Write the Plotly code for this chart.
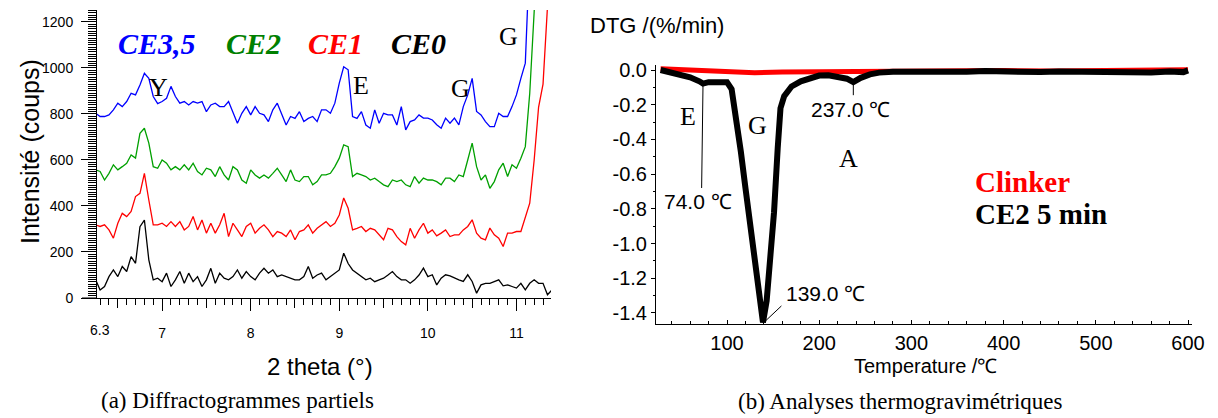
import plotly.graph_objects as go

W, H = 1218, 418
SANS = "Liberation Sans, Arial, sans-serif"
SERIF = "Liberation Serif, Times New Roman, serif"

# ---------------- (a) XRD data ----------------
theta = [round(6.25 + 0.05 * i, 2) for i in range(104)]

ce35 = [803, 789, 789, 796, 818, 847, 832, 854, 890, 883,
        926, 977, 955, 876, 845, 854, 868, 920, 876, 847,
        854, 839, 854, 847, 854, 810, 839, 847, 832, 832,
        854, 810, 760, 803, 832, 796, 832, 803, 796, 767,
        818, 847, 803, 752, 789, 781, 810, 767, 781, 789,
        767, 818, 818, 803, 847, 934, 1005, 992, 789, 781,
        810, 752, 738, 818, 760, 803, 796, 796, 752, 832,
        731, 767, 774, 796, 782, 782, 774, 753, 738, 782,
        760, 782, 753, 832, 883, 955, 811, 796, 767, 745,
        745, 803, 789, 789, 832, 883, 955, 1021, 1500]

ce2 = [557, 550, 513, 542, 579, 557, 571, 586, 622, 608,
       716, 738, 673, 571, 564, 600, 586, 557, 571, 557,
       579, 557, 586, 550, 535, 564, 557, 528, 571, 535,
       513, 571, 557, 513, 499, 557, 535, 521, 535, 521,
       542, 564, 535, 506, 557, 513, 506, 528, 528, 492,
       506, 535, 535, 542, 571, 608, 666, 658, 528, 542,
       535, 528, 513, 521, 506, 492, 484, 513, 506, 513,
       492, 484, 528, 499, 521, 513, 513, 506, 492, 521,
       521, 506, 535, 528, 600, 673, 571, 513, 535, 477,
       506, 557, 586, 528, 579, 564, 608, 658, 890, 1224,
       1600]

ce1 = [318, 311, 318, 296, 260, 325, 368, 354, 376, 441,
       455, 542, 426, 318, 318, 325, 311, 332, 311, 332,
       296, 311, 354, 296, 339, 282, 325, 282, 318, 368,
       267, 325, 296, 267, 311, 325, 282, 303, 318, 296,
       267, 289, 282, 267, 296, 253, 289, 296, 318, 282,
       303, 318, 332, 311, 325, 361, 435, 390, 296, 303,
       311, 289, 303, 296, 274, 253, 303, 296, 267, 245,
       231, 303, 260, 296, 325, 282, 296, 270, 282, 296,
       267, 274, 274, 296, 311, 340, 282, 260, 253, 304,
       275, 260, 224, 282, 282, 289, 289, 354, 412, 600,
       830, 930, 1300, 1600]

ce0 = [79, 35, 50, 93, 122, 93, 137, 115, 180, 151,
       310, 339, 166, 79, 86, 71, 108, 50, 79, 115,
       64, 108, 71, 93, 50, 79, 129, 64, 108, 86,
       79, 93, 122, 86, 115, 93, 79, 108, 129, 108,
       122, 93, 100, 93, 86, 79, 79, 93, 137, 86,
       100, 108, 79, 93, 108, 122, 195, 150, 122, 108,
       93, 79, 86, 71, 79, 86, 100, 115, 93, 79,
       79, 64, 79, 100, 130, 93, 101, 57, 86, 101,
       96, 86, 79, 72, 101, 72, 21, 57, 64, 64,
       72, 79, 53, 57, 50, 43, 64, 35, 64, 79,
       64, 64, 14, 35]

xrd_series = [("CE0", ce0, "#000000"), ("CE1", ce1, "#FF0000"),
              ("CE2", ce2, "#00A000"), ("CE3,5", ce35, "#0000FF")]

x_ticks_a = [7, 8, 9, 10, 11]
x_half_ticks_a = [6.5, 7.5, 8.5, 9.5, 10.5]
y_ticks_a = [0, 200, 400, 600, 800, 1000, 1200]

# ---------------- (b) DTG data ----------------
temp_ce2 = [28, 40, 50, 60, 70, 74, 80, 90, 100,
            105, 110, 115, 120, 125, 130, 135, 139, 143, 147,
            151, 155, 158, 162, 166, 170, 180, 190, 200, 210,
            220, 230, 237, 245, 255, 265, 280, 300, 320, 340,
            360, 380, 400, 420, 440, 460, 480, 500, 520, 540,
            560, 580, 595, 600]
dtg_ce2 = [0.0, -0.015, -0.03, -0.042, -0.065, -0.078, -0.07, -0.068, -0.07,
           -0.11, -0.28, -0.47, -0.68, -0.89, -1.1, -1.3, -1.455, -1.33, -1.10,
           -0.82, -0.45, -0.22, -0.15, -0.115, -0.095, -0.065, -0.045, -0.032, -0.03,
           -0.038, -0.05, -0.07, -0.045, -0.025, -0.015, -0.01, -0.012, -0.008, -0.012,
           -0.01, -0.006, -0.01, -0.008, -0.012, -0.008, -0.01, -0.006, -0.012, -0.01,
           -0.014, -0.008, -0.012, -0.002]

temp_clinker = [28, 60, 100, 130, 160, 200, 250, 300, 350, 400, 450, 500, 550, 600]
dtg_clinker = [0.008, 0.0, -0.012, -0.015, -0.012, -0.01, -0.006, -0.004,
               -0.006, -0.003, -0.005, -0.004, -0.003, 0.002]

x_ticks_b = [100, 200, 300, 400, 500, 600]
y_ticks_b = [0.0, -0.2, -0.4, -0.6, -0.8, -1.0, -1.2, -1.4]
y_ticktext_b = ["0.0", "-0.2", "-0.4", "-0.6", "-0.8", "-1.0", "-1.2", "-1.4"]


def px(x):
    return x / W


def py(y):
    return 1 - y / H


fig = go.Figure()

for name, vals, col in xrd_series:
    fig.add_trace(go.Scatter(x=theta[:len(vals)], y=vals, mode="lines", name=name,
                             line=dict(color=col, width=1.3), xaxis="x", yaxis="y",
                             cliponaxis=True, hoverinfo="skip"))

fig.add_trace(go.Scatter(x=[], y=[], xaxis="x3", yaxis="y", showlegend=False))

fig.add_trace(go.Scatter(x=temp_clinker, y=dtg_clinker, mode="lines", name="Clinker",
                         line=dict(color="#FF0000", width=5), xaxis="x2", yaxis="y2",
                         hoverinfo="skip"))
fig.add_trace(go.Scatter(x=temp_ce2, y=dtg_ce2, mode="lines", name="CE2 5 min",
                         line=dict(color="#000000", width=6), xaxis="x2", yaxis="y2",
                         hoverinfo="skip"))

axcommon = dict(showgrid=False, zeroline=False, showline=True, linecolor="black",
                linewidth=1, tickcolor="black", tickwidth=1, automargin=False)

fig.update_layout(
    template="none",
    width=W, height=H, margin=dict(l=0, r=0, t=0, b=0, pad=0, autoexpand=False),
    paper_bgcolor="white", plot_bgcolor="white", showlegend=False,
    font=dict(family=SANS, color="black"),
    xaxis=dict(domain=[px(97), px(551)], range=[6.265, 11.39], anchor="y",
               tickvals=x_ticks_a, ticks="outside", ticklen=12,
               tickfont=dict(family=SANS, size=14, color="black"),
               ticklabelstandoff=10,
               minor=dict(dtick=0.1, ticks="outside", ticklen=6, tickcolor="black",
                          showgrid=False),
               **axcommon),
    xaxis3=dict(overlaying="x", anchor="y", range=[6.265, 11.39],
                tickvals=x_half_ticks_a, ticks="outside", ticklen=9,
                tickcolor="black", showticklabels=False, showline=False,
                showgrid=False, zeroline=False, automargin=False),
    yaxis=dict(domain=[py(298), py(10)], range=[0, 1252], anchor="x",
               tickvals=y_ticks_a, ticks="outside", ticklen=15,
               tickfont=dict(family=SANS, size=14, color="black"),
               ticklabelstandoff=5,
               minor=dict(dtick=10, ticks="outside", ticklen=8, tickcolor="black",
                          showgrid=False),
               **axcommon),
    xaxis2=dict(domain=[px(656), px(1192)], range=[23, 604.3], anchor="y2",
                tickvals=x_ticks_b, ticks="inside", ticklen=4,
                tickfont=dict(family=SANS, size=20, color="black"),
                ticklabelstandoff=1,
                minor=dict(dtick=20, ticks="inside", ticklen=3, tickcolor="black",
                           showgrid=False),
                **axcommon),
    yaxis2=dict(domain=[py(324), py(65)], range=[-1.464, 0.029], anchor="x2",
                tickvals=y_ticks_b, ticktext=y_ticktext_b, ticks="outside", ticklen=4,
                tickfont=dict(family=SANS, size=20, color="black"),
                minor=dict(dtick=0.1, ticks="outside", ticklen=2, tickcolor="black",
                           showgrid=False),
                **axcommon),
)

ann = []


def txt(x, y, text, size, family, color="black", xanchor="center", angle=0):
    ann.append(dict(x=px(x), y=py(y), xref="paper", yref="paper", text=text,
                    showarrow=False, xanchor=xanchor, yanchor="middle", textangle=angle,
                    font=dict(family=family, size=size, color=color)))


# panel (a)
txt(100, 330, "6.3", 14, SANS)
txt(30, 152, "Intensité (coups)", 25, SANS, angle=-90)
txt(320, 366, "2 theta (°)", 24, SANS)
txt(237, 400, "(a) Diffractogrammes partiels", 23, SERIF)
txt(157, 43, "<b><i>CE3,5</i></b>", 30, SERIF, "#0000FF")
txt(253, 43, "<b><i>CE2</i></b>", 30, SERIF, "#008000")
txt(335, 43, "<b><i>CE1</i></b>", 30, SERIF, "#FF0000")
txt(418, 43, "<b><i>CE0</i></b>", 30, SERIF, "#000000")
txt(158, 87, "Y", 26, SERIF)
txt(361, 86, "E", 26, SERIF)
txt(460, 88, "G", 26, SERIF)
txt(508, 37, "G", 26, SERIF)

# panel (b)
txt(588, 25, "DTG /(%/min)", 22, SANS, xanchor="left")
txt(925, 366, "Temperature /℃", 20, SANS)
txt(900, 401, "(b) Analyses thermogravimétriques", 23, SERIF)
txt(973, 182, "<b>Clinker</b>", 29, SERIF, "#FF0000", xanchor="left")
txt(973, 214, "<b>CE2 5 min</b>", 29, SERIF, "#000000", xanchor="left")
txt(688, 117, "E", 26, SERIF)
txt(757, 125, "G", 26, SERIF)
txt(848, 158, "A", 26, SERIF)
txt(850, 110, "237.0 ℃", 21, SANS)
txt(698, 201, "74.0 ℃", 21, SANS)
txt(825, 293, "139.0 ℃", 21, SANS)

fig.update_layout(annotations=ann)

shapes = [
    # x-axis line extension left of y axis (panel a)
    dict(type="line", xref="paper", yref="paper", x0=px(82), x1=px(97),
         y0=py(298), y1=py(298), line=dict(color="black", width=1)),
    # leader lines (panel b)
    dict(type="line", xref="x2", yref="y2", x0=74, y0=-0.078, x1=72.5, y1=-0.68,
         line=dict(color="black", width=1)),
    dict(type="line", xref="x2", yref="y2", x0=237, y0=-0.077, x1=237, y1=-0.145,
         line=dict(color="black", width=1)),
    dict(type="line", xref="x2", yref="y2", x0=141, y0=-1.45, x1=159, y1=-1.36,
         line=dict(color="black", width=1)),
]
fig.update_layout(shapes=shapes)

fig.write_html("out.html",
               config={"displayModeBar": False, "responsive": False},
               post_script="document.body.style.margin='0px';"
                           "document.body.style.overflow='hidden';")
